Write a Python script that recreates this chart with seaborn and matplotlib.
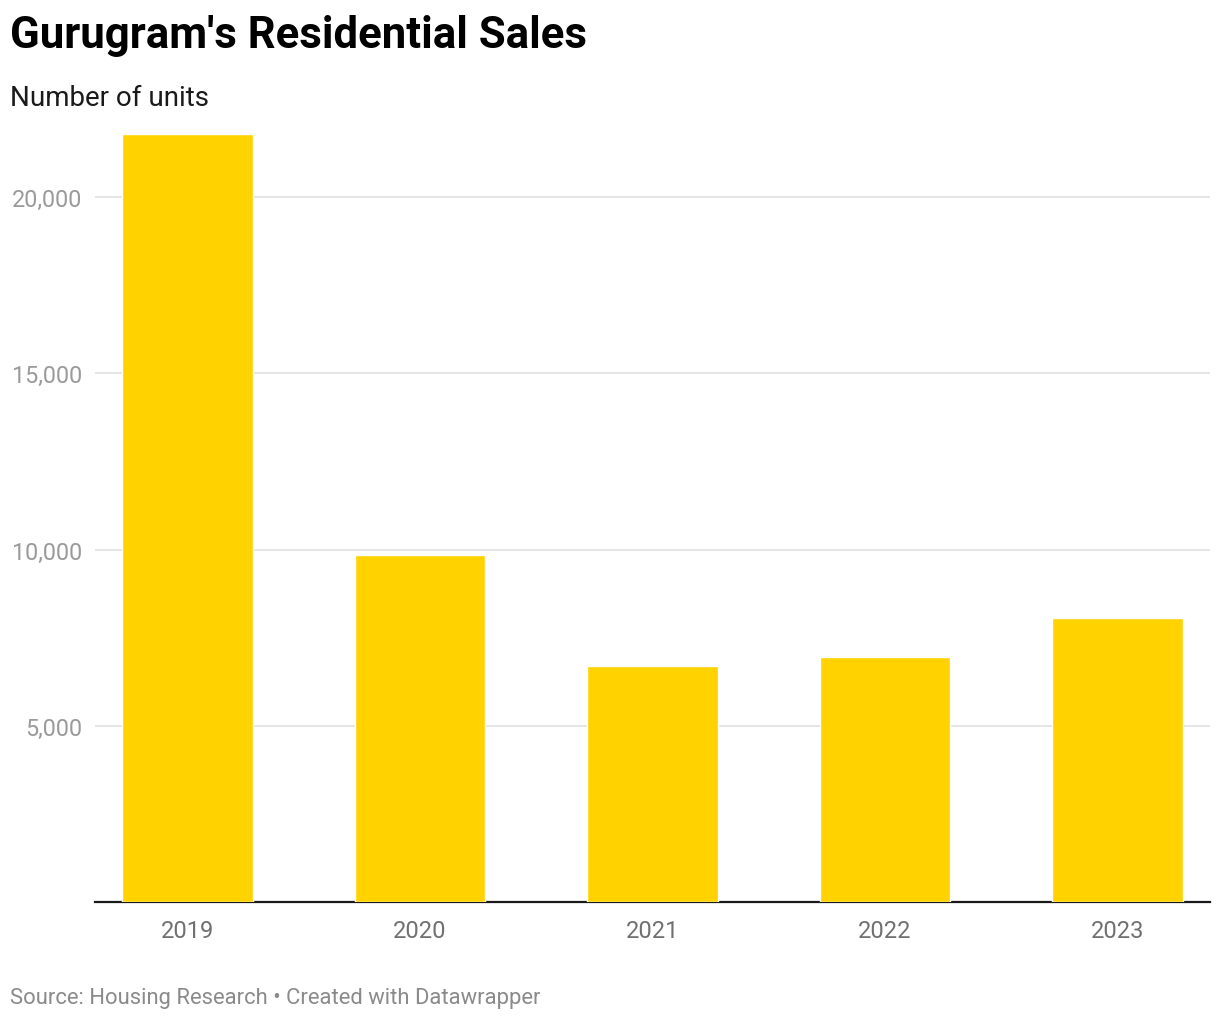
import matplotlib
matplotlib.use("Agg")
import matplotlib.pyplot as plt
import matplotlib.ticker as mticker
import pandas as pd
import seaborn as sns

# Data
YEARS = ["2019", "2020", "2021", "2022", "2023"]
UNITS = [21800, 9850, 6700, 6950, 8050]

TITLE = "Gurugram's Residential Sales"
SUBTITLE = "Number of units"
SOURCE = "Source: Housing Research \u2022 Created with Datawrapper"

BAR_COLOR = "#FFD200"

sns.set_theme(style="white")
plt.rcParams["font.family"] = ["Roboto", "DejaVu Sans"]

df = pd.DataFrame({"year": YEARS, "units": UNITS})

W, H = 1220, 1020
fig = plt.figure(figsize=(W / 100, H / 100), dpi=100)

# axes box in pixel terms: x 95..1210, y 120..903
left, right, top, bottom = 95, 1210, 120, 903
ax = fig.add_axes([left / W, 1 - bottom / H, (right - left) / W, (bottom - top) / H])

sns.barplot(data=df, x="year", y="units", color=BAR_COLOR, width=0.56,
            saturation=1, ax=ax, zorder=3)

ax.set_xlim(-0.398, 4.398)
ax.set_ylim(0, 22215)
ax.set_yticks([5000, 10000, 15000, 20000])
ax.yaxis.set_major_formatter(mticker.FuncFormatter(lambda v, _: f"{int(v):,}"))
ax.grid(axis="y", color="#e3e3e3", linewidth=1.3, zorder=0)
ax.set_axisbelow(True)

for side in ["top", "right", "left"]:
    ax.spines[side].set_visible(False)
ax.spines["bottom"].set_color("#1a1a1a")
ax.spines["bottom"].set_linewidth(1.6)

ax.set_xlabel("")
ax.set_ylabel("")
ax.tick_params(axis="y", length=0, pad=9.4, labelsize=16.8, labelcolor="#9a9a9a")
ax.tick_params(axis="x", length=0, pad=12.5, labelsize=17, labelcolor="#707070")

fig.text(10 / W, 1 - 36 / H, TITLE, fontsize=31.5, fontweight="bold",
         color="#000000", ha="left", va="center")
fig.text(10 / W, 1 - 99 / H, SUBTITLE, fontsize=20, color="#1a1a1a",
         ha="left", va="center")
fig.text(10 / W, 1 - 999 / H, SOURCE, fontsize=15.8, color="#8a8a8a",
         ha="left", va="center")

fig.savefig("out.png", dpi=100, facecolor="white")
